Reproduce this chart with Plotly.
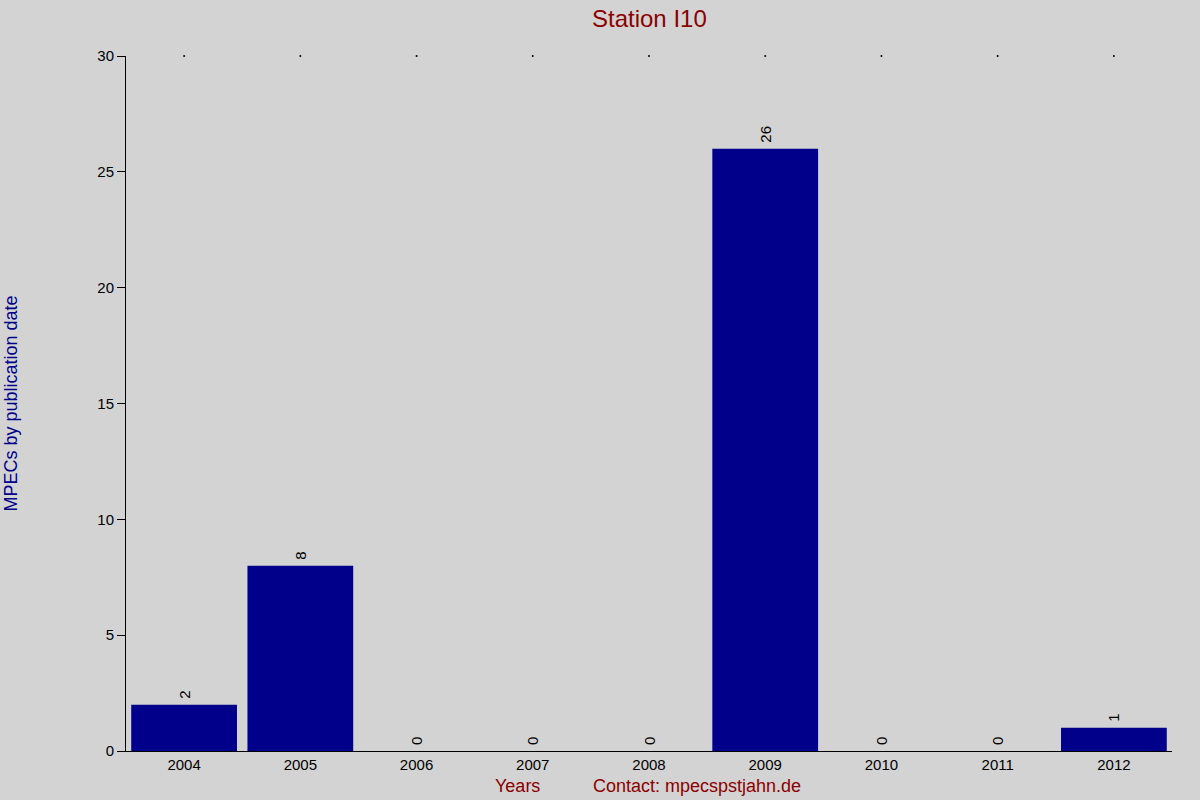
import plotly.graph_objects as go

# ---- data
years = ['2004', '2005', '2006', '2007', '2008', '2009', '2010', '2011', '2012']
mpecs = [2, 8, 0, 0, 0, 26, 0, 0, 1]
y_ticks = [0, 5, 10, 15, 20, 25, 30]

dark_red = '#8B0000'
dark_blue = '#00008B'
grey_bg = '#D3D3D3'

fig = go.Figure()

fig.add_trace(go.Bar(
	x = years,
	y = mpecs,
	marker = dict(color = dark_blue, line = dict(width = 0)),
	width = 0.91,
	text = ['\u2009' + str(v) for v in mpecs],
	textposition = 'outside',
	textangle = -90,
	textfont = dict(color = 'black', size = 15),
	cliponaxis = False,
))

# ---- tiny dots along the top edge
fig.add_trace(go.Scatter(
	x = years,
	y = [max(y_ticks)] * len(years),
	mode = 'markers',
	marker = dict(color = 'black', size = 2),
	cliponaxis = False,
	hoverinfo = 'skip',
))

# ---- layout
fig.update_layout(
	width = 1200,
	height = 800,
	paper_bgcolor = grey_bg,
	plot_bgcolor = grey_bg,
	font = dict(family = 'Liberation Sans, Arial, sans-serif', size = 15, color = 'black'),
	showlegend = False,
	margin = dict(l = 126, r = 28, t = 56, b = 49, pad = 0),
	xaxis = dict(
		type = 'category',
		showgrid = False,
		showline = True,
		linecolor = 'black',
		linewidth = 1,
		ticks = '',
		tickfont = dict(size = 15),
		zeroline = False,
	),
	yaxis = dict(
		range = [0, 30],
		tickvals = y_ticks,
		showgrid = False,
		showline = True,
		linecolor = 'black',
		linewidth = 1,
		ticks = 'outside',
		ticklen = 8,
		tickcolor = 'black',
		tickfont = dict(size = 15),
		zeroline = False,
	),
	annotations = [
		dict(text = 'Station I10', xref = 'paper', yref = 'paper', x = 0.5, y = 1, yshift = 38,
			xanchor = 'center', yanchor = 'middle', showarrow = False, font = dict(size = 24, color = dark_red)),
		dict(text = 'MPECs by publication date', xref = 'paper', yref = 'paper', x = 0, y = 0.5,
			xshift = -116, xanchor = 'center', yanchor = 'middle', textangle = -90,
			showarrow = False, font = dict(size = 18, color = dark_blue)),
		dict(text = 'Years', xref = 'paper', yref = 'paper', x = (517 - 126) / 1046, y = 0, yshift = -35,
			xanchor = 'center', yanchor = 'middle', showarrow = False, font = dict(size = 18, color = dark_red)),
		dict(text = 'Contact: mpecspstjahn.de', xref = 'paper', yref = 'paper', x = (697 - 126) / 1046, y = 0, yshift = -35,
			xanchor = 'center', yanchor = 'middle', showarrow = False, font = dict(size = 18, color = dark_red)),
	],
)

fig.write_html("out.html", config = dict(displayModeBar = False),
	post_script = "document.body.style.margin = '0';")
